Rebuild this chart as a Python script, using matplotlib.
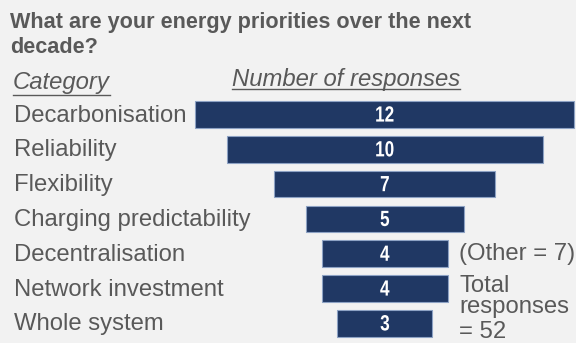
import matplotlib.pyplot as plt
from matplotlib.lines import Line2D
from matplotlib.textpath import TextPath
from matplotlib.patches import PathPatch
from matplotlib.font_manager import FontProperties
from matplotlib.transforms import Affine2D, ScaledTranslation

categories = ["Decarbonisation", "Reliability", "Flexibility",
              "Charging predictability", "Decentralisation",
              "Network investment", "Whole system"]
responses = [12, 10, 7, 5, 4, 4, 3]

bg = "#f2f2f2"
navy = "#203864"
grey = "#595959"
W, H = 576, 343

plt.rcParams['font.family'] = ['Liberation Sans', 'DejaVu Sans']

def px(x, y):
    # pixel position (from top-left) -> figure fraction
    return x / W, 1 - y / H

fig = plt.figure(figsize=(5.76, 3.43), dpi=100, facecolor=bg)
ax = fig.add_axes([0, 0, 1, 1])
ax.set_facecolor(bg)

# funnel: bars centred on one x
left = [-v / 2 for v in responses]
ypos = list(range(len(categories)))
ax.barh(ypos, responses, left=left, height=0.77, color=navy,
        edgecolor="#8da2c4", linewidth=0.8)

ax.set_xlim(-12.18, 6.05)
ax.set_ylim(6.566, -3.29)
ax.axis("off")

# value labels in a narrow face (squeezed text path)
fp = FontProperties(family="Liberation Sans", weight="bold")
em = 22.0
for y, v in zip(ypos, responses):
    tp = TextPath((0, 0), str(v), size=em, prop=fp)
    ext = tp.get_extents()
    tr = (Affine2D().translate(-(ext.x0 + ext.x1) / 2, -0.716 * em / 2 + 0.8)
          .scale(0.78, 1.0)
          + ScaledTranslation(0, y, ax.transData))
    ax.add_patch(PathPatch(tp, transform=tr, color="white", lw=0))

# category names
for y, c in zip(ypos, categories):
    ax.text(0.024, y + 0.03, c, transform=ax.get_yaxis_transform(), ha="left",
            va="center", fontsize=17.2, color=grey)

fig.text(*px(10, 28), "What are your energy priorities over the next",
         ha="left", va="baseline", fontsize=15.6, fontweight="bold", color=grey)
fig.text(*px(10, 53), "decade?",
         ha="left", va="baseline", fontsize=15.6, fontweight="bold", color=grey)

t1 = fig.text(*px(13, 89), "Category", ha="left", va="baseline",
              fontsize=17.2, style="italic", color=grey)
t2 = fig.text(*px(346, 86), "Number of responses", ha="center", va="baseline",
              fontsize=17.2, style="italic", color=grey)

fig.text(*px(459, 260), "(Other = 7)", ha="left", va="baseline",
         fontsize=17.2, color=grey)
fig.text(*px(459, 292), "Total", ha="left", va="baseline",
         fontsize=17.2, color=grey)
fig.text(*px(459, 313), "responses", ha="left", va="baseline",
         fontsize=17.2, color=grey)
fig.text(*px(459, 338), "= 52", ha="left", va="baseline",
         fontsize=17.2, color=grey)

# underline the two headers
fig.canvas.draw()
r = fig.canvas.get_renderer()
for t, yl in ((t1, 95), (t2, 89)):
    bb = t.get_window_extent(r).transformed(fig.transFigure.inverted())
    yline = 1 - yl / H
    fig.add_artist(Line2D([bb.x0, bb.x1], [yline, yline], color=grey,
                          linewidth=1.0, transform=fig.transFigure))

fig.savefig("out.png", dpi=100, facecolor=bg)
